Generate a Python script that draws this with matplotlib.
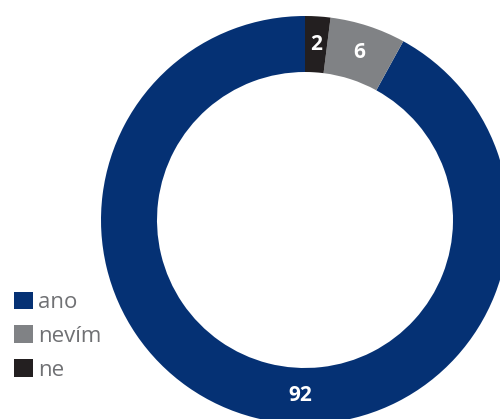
import matplotlib.pyplot as plt
import numpy as np

# Donut data (percent)
labels = ["ano", "nevím", "ne"]
values = [92, 6, 2]
colors = ["#053174", "#808285", "#231f20"]

fig = plt.figure(figsize=(5, 4.19), dpi=100)
ax = fig.add_axes([0, 0, 1, 1])
ax.set_xlim(0, 500)
ax.set_ylim(0, 419)
ax.set_aspect("equal")
ax.axis("off")

cx, cy = 305, 199
r_out, r_in = 204, 148
wedges, _ = ax.pie(values, colors=colors, startangle=90, counterclock=True,
                   radius=r_out, center=(cx, cy),
                   wedgeprops=dict(width=r_out - r_in, linewidth=0))
ax.set_xlim(0, 500)
ax.set_ylim(0, 419)

# value labels in the ring
r_lab = (r_out + r_in) / 2
for w, v in zip(wedges, values):
    ang = (w.theta1 + w.theta2) / 2
    if v > 50:
        ang = 268.5  # big slice label sits at the bottom
    x = cx + r_lab * np.cos(np.radians(ang))
    y = cy + r_lab * np.sin(np.radians(ang))
    ax.text(x, y, str(v), color="white", fontsize=15, fontweight="bold",
            ha="center", va="center", family="Open Sans")

leg = ax.legend(wedges, labels, loc="lower left", bbox_to_anchor=(0.005, 0.065),
                frameon=False, handlelength=0.85, handleheight=0.85,
                handletextpad=0.25, labelspacing=0.55, borderpad=0,
                prop={"family": "Open Sans", "size": 16})
for t in leg.get_texts():
    t.set_color("#707174")

fig.savefig("out.png", dpi=100)
